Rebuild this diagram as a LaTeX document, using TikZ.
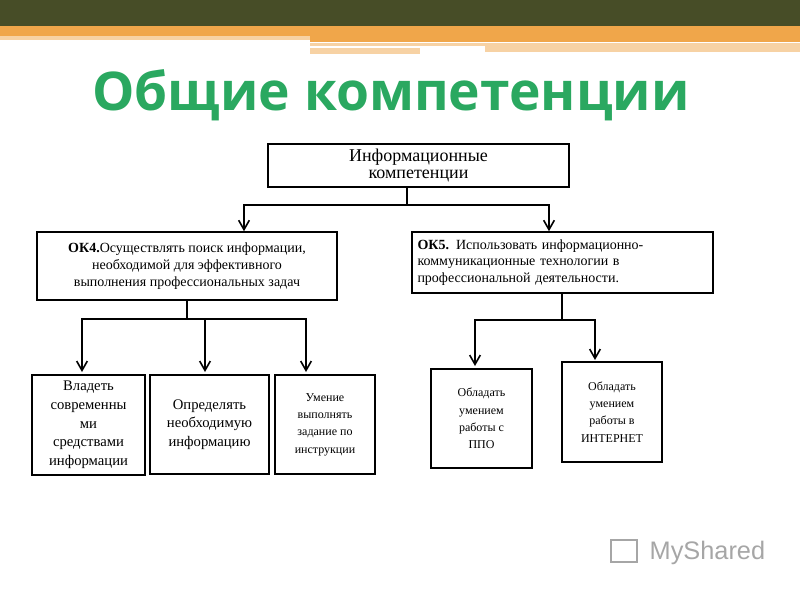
\documentclass[tikz,border=0pt]{standalone}
\usepackage{fontspec}
\setmainfont{Liberation Serif}
\newfontfamily\titlefont{Open Sans}
\newfontfamily\logofont{Liberation Sans}
\usetikzlibrary{arrows.meta}
\definecolor{olive}{HTML}{474D27}
\definecolor{orng}{HTML}{F0A64A}
\definecolor{lorng}{HTML}{F7D2A4}
\definecolor{ttl}{HTML}{2AA860}
\tikzset{box/.style={draw,line width=1.2pt,align=center,inner sep=2pt},
 conn/.style={line width=1.2pt},
 arr/.style={line width=1.2pt,-{Straight Barb[length=7pt,width=8pt,line width=1.2pt]}}}
\begin{document}
\begin{tikzpicture}[x=0.75pt,y=-0.75pt]
\useasboundingbox (0,0) rectangle (800,600);
\fill[olive] (0,0) rectangle (800,26);
\fill[orng] (0,26) rectangle (800,36);
\fill[lorng] (0,36) rectangle (310,40);
\fill[orng] (310,36) rectangle (800,42);
\fill[lorng] (310,43) rectangle (485,46);
\fill[lorng] (310,48) rectangle (420,54);
\fill[lorng] (485,43) rectangle (800,52);
\node (title) at (391,95) {\titlefont\bfseries\fontsize{40}{46}\selectfont\color{ttl}Общие компетенции};
\node[box,minimum width=301*0.75pt,minimum height=43*0.75pt,font=\fontsize{13.5}{13}\selectfont] (top) at (418.5,165.5) {Информационные\\компетенции};
\node[box,minimum width=300*0.75pt,minimum height=68*0.75pt,font=\fontsize{10.5}{12.5}\selectfont] (ok4) at (187,266) {\textbf{ОК4.}Осуществлять поиск информации,\\необходимой для эффективного\\выполнения профессиональных задач};
\node[box,minimum width=301*0.75pt,minimum height=61*0.75pt,font=\fontsize{10.5}{12.5}\selectfont,align=left,text width=290*0.75pt] (ok5) at (562.5,262.5) {\textbf{ОК5.} Использовать информационно-\\коммуникационные технологии в\\профессиональной деятельности.};
\node[box,minimum width=113*0.75pt,minimum height=100*0.75pt,font=\fontsize{11}{14}\selectfont] (b1) at (88.5,425) {Владеть\\современны\\ми\\средствами\\информации};
\node[box,minimum width=119*0.75pt,minimum height=99*0.75pt,font=\fontsize{11}{14}\selectfont] (b2) at (209.5,424.5) {Определять\\необходимую\\информацию};
\node[box,minimum width=100*0.75pt,minimum height=99*0.75pt,font=\fontsize{9}{13}\selectfont] (b3) at (325,424.5) {Умение\\выполнять\\задание по\\инструкции};
\node[box,minimum width=101*0.75pt,minimum height=99*0.75pt,font=\fontsize{9}{13}\selectfont] (b4) at (481.5,418.5) {Обладать\\умением\\работы с\\ППО};
\node[box,minimum width=100*0.75pt,minimum height=100*0.75pt,font=\fontsize{9}{13}\selectfont] (b5) at (612,412) {Обладать\\умением\\работы в\\ИНТЕРНЕТ};
% connectors
\coordinate (j1) at (407,205);
\draw[conn] (top.south -| j1) -- (j1);
\draw[arr] (j1) -| (ok4.north -| 244,0);
\draw[arr] (j1) -| (ok5.north -| 549,0);
\coordinate (j2) at (187,319);
\draw[conn] (ok4.south -| j2) -- (j2);
\draw[arr] (j2) -| (82,372);
\draw[arr] (j2) -| (306,372);
\draw[arr] (205,319) -- (205,372);
\coordinate (j3) at (562,320);
\draw[conn] (ok5.south -| j3) -- (j3);
\draw[arr] (j3) -| (475,366);
\draw[arr] (j3) -| (595,360);
% logo
\node[gray!70,font=\logofont\fontsize{19}{19}\selectfont,anchor=west] (logo) at (645,553) {MyShared};
\draw[gray!70,line width=1.5pt] (611,540) rectangle (637,562);
\end{tikzpicture}
\end{document}
